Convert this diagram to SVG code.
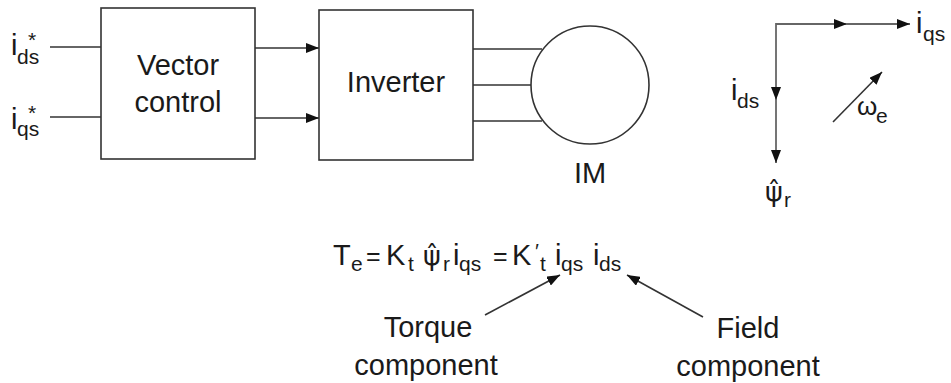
<svg xmlns="http://www.w3.org/2000/svg" width="951" height="383" viewBox="0 0 951 383">
<style>
  .box { fill: #fff; stroke: #333; stroke-width: 1.6; }
  .ln { fill: none; stroke: #333; stroke-width: 1.6; }
  .lg { fill: none; stroke: #666; stroke-width: 1.8; }
  text { font-family: "Liberation Sans", Arial, sans-serif; fill: #1a1a1a; font-size: 29px; }
  .s { font-size: 21px; }
  .c { text-anchor: middle; }
  .psi { font-family: "DejaVu Sans", sans-serif; font-size: 27px; }
</style>
<defs>
  <marker id="ah" markerUnits="userSpaceOnUse" markerWidth="13" markerHeight="10" refX="13" refY="5" orient="auto">
    <path d="M0,0 L13,5 L0,10 z" fill="#111"/>
  </marker>
</defs>

<g id="connectors">
  <line class="ln" x1="50" y1="47" x2="101" y2="47"/>
  <line class="ln" x1="50" y1="117" x2="101" y2="117"/>
  <line class="ln" x1="255" y1="48" x2="319" y2="48" marker-end="url(#ah)"/>
  <line class="ln" x1="255" y1="118" x2="319" y2="118" marker-end="url(#ah)"/>
  <line class="ln" x1="473" y1="49" x2="542" y2="49"/>
  <line class="ln" x1="473" y1="85" x2="532" y2="85"/>
  <line class="ln" x1="473" y1="121" x2="542" y2="121"/>
  <line class="ln" x1="485" y1="315" x2="560" y2="275" marker-end="url(#ah)"/>
  <line class="ln" x1="703" y1="317" x2="627" y2="275" marker-end="url(#ah)"/>
</g>

<g id="input-ids">
  <text x="11" y="55">i<tspan class="s" x="17" y="64">ds</tspan><tspan class="s" x="28" y="47">*</tspan></text>
</g>
<g id="input-iqs">
  <text x="11" y="129">i<tspan class="s" x="17" y="136">qs</tspan><tspan class="s" x="28" y="120">*</tspan></text>
</g>

<g id="vector-control">
  <rect class="box" x="101" y="8" width="154" height="151"/>
  <text class="c" x="178" y="75">Vector</text>
  <text class="c" x="178" y="112">control</text>
</g>

<g id="inverter">
  <rect class="box" x="319" y="10" width="154" height="150"/>
  <text class="c" x="396" y="92">Inverter</text>
</g>

<g id="motor">
  <circle class="box" cx="590" cy="85" r="59"/>
  <text class="c" x="590" y="183">IM</text>
</g>

<g id="phasor-diagram">
  <line class="lg" x1="776" y1="24" x2="847" y2="24" marker-end="url(#ah)"/>
  <line class="lg" x1="846" y1="24" x2="910" y2="24" marker-end="url(#ah)"/>
  <line class="lg" x1="776" y1="23" x2="776" y2="100" marker-end="url(#ah)"/>
  <line class="lg" x1="776" y1="99" x2="776" y2="163" marker-end="url(#ah)"/>
  <line class="ln" x1="833" y1="122" x2="882" y2="72" marker-end="url(#ah)"/>
  <text x="916" y="33">i<tspan class="s" x="923" y="41">qs</tspan></text>
  <text x="731" y="100">i<tspan class="s" x="737" y="108">ds</tspan></text>
  <text x="857" y="115" style="font-size:26px">ω<tspan class="s" x="876" y="123">e</tspan></text>
  <text x="765" y="201"><tspan class="psi">ψ̂</tspan><tspan class="s" x="784" y="207">r</tspan></text>
</g>

<g id="equation">
  <text x="333" y="265">T<tspan class="s" x="351" y="271">e</tspan><tspan style="font-size:25px" x="366" y="265">=</tspan><tspan x="386" y="265">K</tspan><tspan class="s" x="408" y="271">t</tspan><tspan class="psi" x="423" y="265">ψ̂</tspan><tspan class="s" x="443" y="271">r</tspan><tspan x="453" y="265">i</tspan><tspan class="s" x="459" y="271">qs</tspan><tspan style="font-size:25px" x="493" y="265">=</tspan><tspan x="512" y="265">K</tspan><tspan class="s" x="535" y="258">′</tspan><tspan class="s" x="540" y="271">t</tspan><tspan x="555" y="265">i</tspan><tspan class="s" x="561" y="271">qs</tspan><tspan x="593" y="265">i</tspan><tspan class="s" x="599" y="271">ds</tspan></text>
</g>

<g id="torque-label">
  <text class="c" x="428" y="337">Torque</text>
  <text class="c" x="426" y="375">component</text>
</g>
<g id="field-label">
  <text class="c" x="748" y="338">Field</text>
  <text class="c" x="748" y="376">component</text>
</g>
</svg>
